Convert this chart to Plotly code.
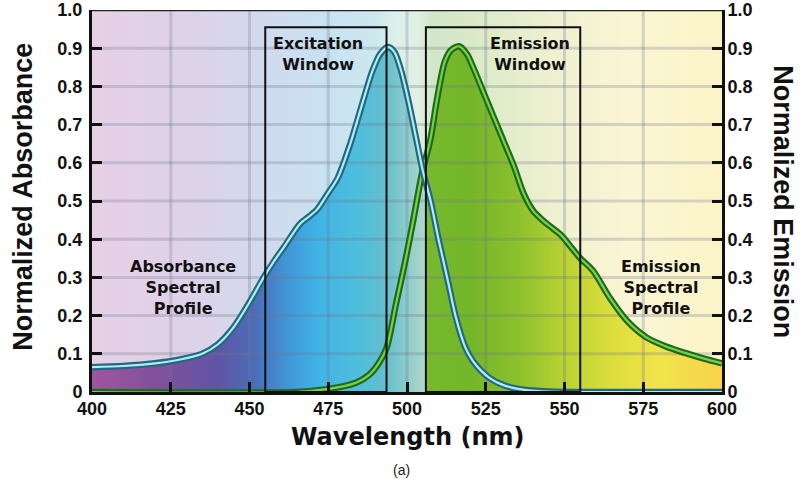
import plotly.graph_objects as go

# ---- axis ticks -------------------------------------------------------------
wavelength_ticks = [400, 425, 450, 475, 500, 525, 550, 575, 600]
value_ticks = [0, 0.1, 0.2, 0.3, 0.4, 0.5, 0.6, 0.7, 0.8, 0.9, 1.0]
value_tick_text = ["0", "0.1", "0.2", "0.3", "0.4", "0.5", "0.6", "0.7", "0.8", "0.9", "1.0"]

# ---- absorbance spectrum (normalized) --------------------------------------
abs_nm = [400, 410, 420, 428, 435, 440, 445, 450, 454.5, 458, 461, 466, 469, 471.5,
          474.5, 478, 482, 486, 489, 491.5, 494, 496, 498, 500.5, 503, 505, 507.5,
          510, 513, 515.5, 518.5, 521, 523.5, 526.5, 530, 534, 538, 545, 550, 600]
abs_val = [0.065, 0.068, 0.075, 0.085, 0.10, 0.125, 0.17, 0.235, 0.30, 0.345, 0.38,
           0.44, 0.46, 0.478, 0.515, 0.56, 0.65, 0.76, 0.84, 0.885, 0.903, 0.89,
           0.845, 0.76, 0.66, 0.58, 0.50, 0.40, 0.29, 0.196, 0.117, 0.08, 0.056,
           0.035, 0.02, 0.01, 0.005, 0.001, 0.0, 0.0]

# ---- emission spectrum (normalized) ----------------------------------------
em_nm = [400, 465, 472, 478, 484, 488, 491, 493.5, 496.5, 499.5, 502, 504.7, 507.4,
         509.5, 512, 514, 516.5, 519, 521, 524, 527.5, 531, 534, 537, 540, 543, 546,
         549, 552, 555, 559, 564.5, 570, 576, 582, 588, 594, 600]
em_val = [0.0, 0.0, 0.005, 0.012, 0.025, 0.045, 0.075, 0.115, 0.23, 0.345, 0.45,
          0.57, 0.66, 0.765, 0.865, 0.895, 0.905, 0.885, 0.85, 0.79, 0.72, 0.65,
          0.59, 0.52, 0.475, 0.45, 0.43, 0.41, 0.38, 0.35, 0.318, 0.245, 0.185,
          0.143, 0.12, 0.103, 0.088, 0.075]

# ---- filter windows (nm) -----------------------------------------------------
excitation_window = [455, 493.5]
emission_window = [506, 555]
window_top = 0.955

# ---- colour ramps along the wavelength axis ---------------------------------
bg_stops = [
    (400, "rgb(230,208,230)"), (430, "rgb(222,210,232)"), (455, "rgb(210,218,238)"),
    (475, "rgb(200,226,242)"), (490, "rgb(205,232,238)"), (497, "rgb(222,240,236)"),
    (503, "rgb(225,240,228)"), (508, "rgb(210,230,200)"), (525, "rgb(220,235,200)"),
    (545, "rgb(238,240,208)"), (570, "rgb(250,245,212)"), (600, "rgb(252,244,200)"),
]
fill_stops = [
    (400, "rgb(160,85,160)"), (420, "rgb(130,80,155)"), (440, "rgb(95,85,165)"),
    (452, "rgb(75,110,185)"), (462, "rgb(65,150,215)"), (472, "rgb(65,180,230)"),
    (485, "rgb(80,190,220)"), (493, "rgb(100,190,205)"), (500, "rgb(140,205,205)"),
    (505.8, "rgb(175,215,200)"), (506.3, "rgb(120,185,45)"), (520, "rgb(115,182,40)"),
    (535, "rgb(140,192,45)"), (550, "rgb(185,210,50)"), (565, "rgb(220,222,60)"),
    (580, "rgb(242,228,75)"), (600, "rgb(248,210,75)"),
]

x_lo, x_hi = wavelength_ticks[0], wavelength_ticks[-1]
y_lo, y_hi = value_ticks[0], value_ticks[-1]


def ramp(stops):
    return [[(nm - x_lo) / (x_hi - x_lo), c] for nm, c in stops]


fig = go.Figure()

# spectral background
fig.add_trace(go.Scatter(
    x=[x_lo, x_hi, x_hi, x_lo, x_lo], y=[y_lo, y_lo, y_hi, y_hi, y_lo],
    mode="lines", line=dict(width=0), fill="toself",
    fillgradient=dict(type="horizontal", colorscale=ramp(bg_stops), start=x_lo, stop=x_hi),
    hoverinfo="skip", showlegend=False,
))

# filled areas under both spectra
for nm, val in ((abs_nm, abs_val), (em_nm, em_val)):
    fig.add_trace(go.Scatter(
        x=nm, y=val, mode="lines", line=dict(width=0, shape="spline", smoothing=0.8),
        fill="tozeroy",
        fillgradient=dict(type="horizontal", colorscale=ramp(fill_stops), start=x_lo, stop=x_hi),
        hoverinfo="skip", showlegend=False,
    ))

# grid drawn over the fills
gx, gy = [], []
for t in wavelength_ticks[1:-1]:
    gx += [t, t, None]
    gy += [y_lo, y_hi, None]
for v in value_ticks[1:-1]:
    gx += [x_lo, x_hi, None]
    gy += [v, v, None]
fig.add_trace(go.Scatter(x=gx, y=gy, mode="lines",
                         line=dict(color="rgba(110,120,140,0.28)", width=3),
                         hoverinfo="skip", showlegend=False))

# spectral profiles: dark outline with a light core
for nm, val, outer, inner in (
    (em_nm, em_val, "rgb(30,105,30)", "rgb(120,210,70)"),
    (abs_nm, abs_val, "rgb(35,105,125)", "rgb(175,235,248)"),
):
    fig.add_trace(go.Scatter(x=nm, y=val, mode="lines",
                             line=dict(color=outer, width=6.5, shape="spline", smoothing=0.8),
                             hoverinfo="skip", showlegend=False))
    fig.add_trace(go.Scatter(x=nm, y=val, mode="lines",
                             line=dict(color=inner, width=2.2, shape="spline", smoothing=0.8),
                             hoverinfo="skip", showlegend=False))

# carrier for the right-hand emission axis
fig.add_trace(go.Scatter(x=em_nm, y=em_val, yaxis="y2", mode="lines",
                         line=dict(width=0), opacity=0, hoverinfo="skip", showlegend=False))

# excitation / emission windows
for x0, x1 in (excitation_window, emission_window):
    fig.add_shape(type="rect", x0=x0, x1=x1, y0=y_lo, y1=window_top, xref="x", yref="y",
                  line=dict(color="#111111", width=2), layer="above")

# top frame edge
fig.add_shape(type="line", xref="x", yref="y", x0=x_lo, x1=x_hi, y0=y_hi, y1=y_hi,
              line=dict(color="#222222", width=2.5), layer="above")

label_font = dict(family="DejaVu Sans", size=16, color="#111111", weight="bold")
for txt, xv, yv in (
    ("Excitation<br>Window", 471.8, 0.885),
    ("Emission<br>Window", 539.2, 0.885),
    ("Absorbance<br>Spectral<br>Profile", 428.9, 0.274),
    ("Emission<br>Spectral<br>Profile", 580.7, 0.274),
):
    fig.add_annotation(x=xv, y=yv, xref="x", yref="y", text=txt, showarrow=False,
                       font=label_font, align="center", xanchor="center", yanchor="middle")

title_font = dict(family="Liberation Sans", size=27, color="#111111", weight="bold")
fig.add_annotation(x=-0.1087, y=0.51, xref="paper", yref="paper", text="Normalized Absorbance",
                   textangle=-90, showarrow=False, font=title_font,
                   xanchor="center", yanchor="middle")
fig.add_annotation(x=1.097, y=0.499, xref="paper", yref="paper", text="Normalized Emission",
                   textangle=90, showarrow=False, font=title_font,
                   xanchor="center", yanchor="middle")
fig.add_annotation(x=0.5, y=-0.117, xref="paper", yref="paper", text="Wavelength (nm)",
                   showarrow=False, xanchor="center", yanchor="middle",
                   font=dict(family="DejaVu Sans", size=24, color="#111111", weight="bold"))
fig.add_annotation(x=0.491, y=-0.205, xref="paper", yref="paper", text="(a)", showarrow=False,
                   xanchor="center", yanchor="middle",
                   font=dict(family="Liberation Sans", size=14, color="#222222"))

tick_font = dict(family="Liberation Sans", size=18, color="#111111", weight="bold")
yaxis_common = dict(
    range=[y_lo, y_hi], tickvals=value_ticks, ticktext=value_tick_text,
    ticks="inside", ticklen=10, tickwidth=3, tickcolor="#111111",
    showline=True, linewidth=3, linecolor="#111111", showgrid=False, zeroline=False,
    tickfont=tick_font, fixedrange=True, automargin=False,
)

fig.update_layout(
    width=801, height=482,
    margin=dict(l=92, r=79, t=10, b=90, autoexpand=False),
    paper_bgcolor="white", plot_bgcolor="white",
    showlegend=False,
    xaxis=dict(range=[x_lo, x_hi], tickvals=wavelength_ticks,
               ticks="inside", ticklen=10, tickwidth=3, tickcolor="#111111",
               showline=True, linewidth=3, linecolor="#111111", showgrid=False,
               zeroline=False, tickfont=tick_font, ticklabelstandoff=-2,
               fixedrange=True, automargin=False),
    yaxis=dict(**yaxis_common, ticklabelstandoff=3),
    yaxis2=dict(**yaxis_common, ticklabelstandoff=-1, overlaying="y", side="right", anchor="x"),
)

fig.write_html("out.html")
